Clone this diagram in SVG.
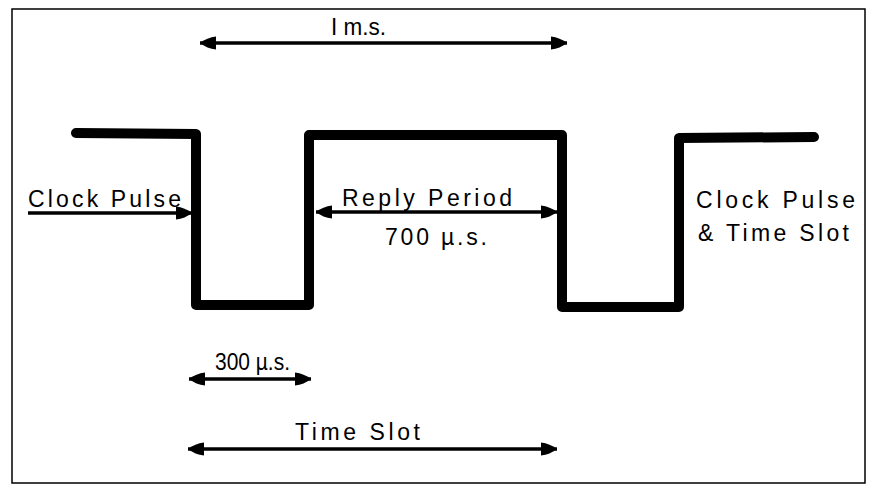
<svg xmlns="http://www.w3.org/2000/svg" width="876" height="493" viewBox="0 0 876 493">
  <defs>
    <marker id="ah" viewBox="0 -7 17 14" refX="16" refY="0" markerWidth="17" markerHeight="14" markerUnits="userSpaceOnUse" orient="auto-start-reverse">
      <path d="M0,-6.5 Q9,-5.5 16,0 Q9,5.5 0,6.5 Z" fill="#000"/>
    </marker>
  </defs>
  <style>
    text { font-family: "Liberation Sans", Arial, sans-serif; font-size: 23px; fill: #000; }
    .dim { stroke: #000; stroke-width: 3.5; fill: none; marker-start: url(#ah); marker-end: url(#ah); }
    .one { stroke: #000; stroke-width: 3.5; fill: none; marker-end: url(#ah); }
    .wave { stroke: #000; stroke-width: 10; fill: none; stroke-linejoin: round; stroke-linecap: round; }
  </style>
  <rect x="0" y="0" width="876" height="493" fill="#fff"/>
  <rect id="frame" x="12" y="9" width="853" height="474" fill="none" stroke="#000" stroke-width="1.5"/>

  <g id="waveform">
    <path class="wave" d="M76,133 L196,134 L196,305 L309,305 L309,135 L562,135 L562,307 L679,307 L679,138 L814,137"/>
  </g>

  <g id="connectors">
    <line class="dim" x1="200" y1="43" x2="567" y2="43"/>
    <line class="one" x1="28" y1="213" x2="192" y2="213"/>
    <line class="dim" x1="316" y1="212" x2="557" y2="212"/>
    <line class="dim" x1="189" y1="379" x2="311" y2="379"/>
    <line class="dim" x1="188" y1="449" x2="557" y2="449"/>
  </g>

  <g id="label-1ms"><text x="331" y="35" textLength="55" lengthAdjust="spacingAndGlyphs">I m.s.</text></g>
  <g id="label-clock-pulse-left"><text x="28" y="207" textLength="153" lengthAdjust="spacing">Clock Pulse</text></g>
  <g id="label-reply-period"><text x="342" y="206" textLength="170" lengthAdjust="spacing">Reply Period</text></g>
  <g id="label-700"><text x="385" y="245" font-size="24" textLength="102" lengthAdjust="spacing">700 µ.s.</text></g>
  <g id="label-clock-pulse-right">
    <text x="696" y="208" font-size="22" textLength="159" lengthAdjust="spacing">Clock Pulse</text>
    <text x="698" y="241" font-size="21" textLength="151" lengthAdjust="spacing">&amp; Time Slot</text>
  </g>
  <g id="label-300"><text x="215" y="370" font-size="21" textLength="75" lengthAdjust="spacingAndGlyphs">300 µ.s.</text></g>
  <g id="label-time-slot"><text x="295" y="440" font-size="21" textLength="125" lengthAdjust="spacing">Time Slot</text></g>
</svg>
